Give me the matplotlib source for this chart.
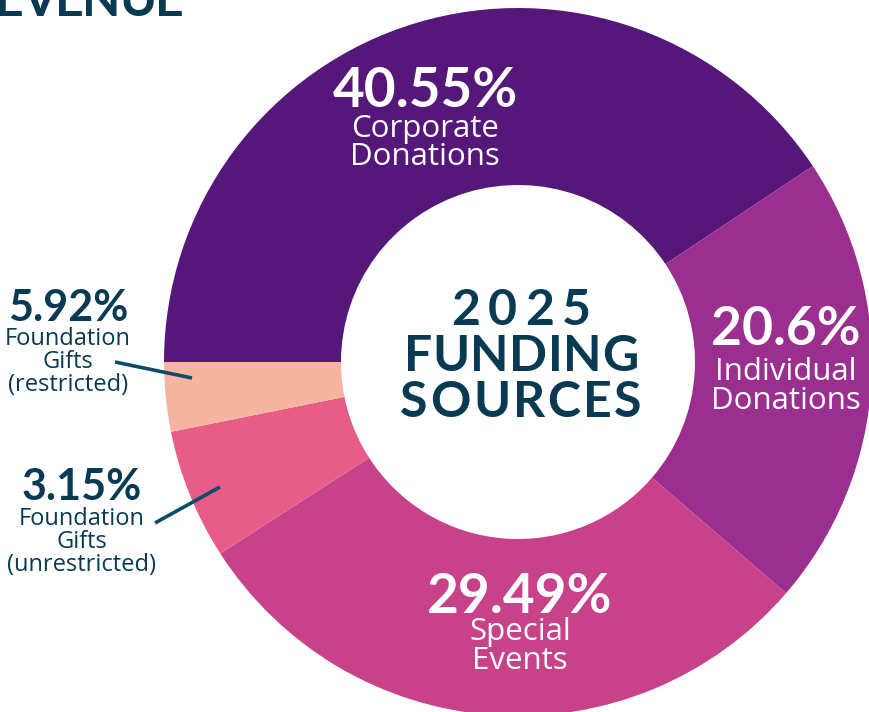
import matplotlib
matplotlib.use("Agg")
import matplotlib.pyplot as plt
from matplotlib.font_manager import FontProperties

# funding sources, clockwise from 9 o'clock
sources = ["Corporate Donations", "Individual Donations", "Special Events",
           "Foundation Gifts (unrestricted)", "Foundation Gifts (restricted)"]
shares = [40.55, 20.6, 29.49, 5.92, 3.15]
colors = ["#56177a", "#9a2f90", "#c8428a", "#e85d88", "#f6b5a1"]
center_words = ["2025", "FUNDING", "SOURCES"]

navy = "#083b53"
W, H = 869, 712
cx, cy = 518, 362   # donut centre in image pixels


def px(x, y):
    # image pixel -> data coords (1 unit = 1 px)
    return x - cx, cy - y


fig = plt.figure(figsize=(W / 100, H / 100), dpi=100)
ax = fig.add_axes([0, 0, 1, 1])

ax.pie(shares, colors=colors, radius=354, startangle=180, counterclock=False,
       wedgeprops=dict(width=177, edgecolor="none"))
ax.set_xlim(-cx, W - cx)
ax.set_ylim(-(H - cy), cy)
ax.set_aspect("equal")
ax.axis("off")

renderer = fig.canvas.get_renderer()


def spaced(x, y, s, size, track, ha="center"):
    # bold Lato with extra letter spacing, drawn char by char
    fp = FontProperties(family="Lato", weight="bold", size=size)
    widths = [renderer.get_text_width_height_descent(ch, fp, ismath=False)[0] for ch in s]
    total = sum(widths) + track * (len(s) - 1)
    xx, yy = px(x, y)
    start = xx - total / 2 if ha == "center" else xx - total
    for ch, w in zip(s, widths):
        ax.text(start, yy, ch, ha="left", va="baseline", color=navy, fontproperties=fp)
        start += w + track


def label(x, y, pct, lines, color, pct_size, txt_size, gap, first_gap):
    xx, yy = px(x, y)
    ax.text(xx, yy, pct, ha="center", va="baseline", color=color,
            fontsize=pct_size, fontweight="bold", family="Lato")
    for i, line in enumerate(lines):
        ax.text(xx, yy - first_gap - i * gap, line, ha="center", va="baseline",
                color=color, fontsize=txt_size, family="Open Sans")


label(425, 107, "40.55%", ["Corporate", "Donations"], "white", 39.5, 22.5, 28, 30)
label(786, 345, "20.6%", ["Individual", "Donations"], "white", 38.5, 22.5, 29, 35)
label(520, 613, "29.49%", ["Special", "Events"], "white", 39.5, 22.5, 29, 27)
label(68, 321, "5.92%", ["Foundation", "Gifts", "(restricted)"], navy, 31, 17, 23, 24)
label(82, 500, "3.15%", ["Foundation", "Gifts", "(unrestricted)"], navy, 31, 17, 23, 25)

# leader lines to the two small slices
for (x1, y1), (x2, y2) in [((115, 362), (192, 378)), ((155, 523), (220, 487))]:
    a, b = px(x1, y1)
    c, d = px(x2, y2)
    ax.plot([a, c], [b, d], color="#0b4c6a", lw=2.6, solid_capstyle="butt")

# centre title
for word, base, track in zip(center_words, [325, 371, 417], [8, 0.5, 2.5]):
    spaced(521, base, word, 36, track)

spaced(184, 16, "REVENUE", 36, -1.5, ha="right")

fig.savefig("out.png", dpi=100)
